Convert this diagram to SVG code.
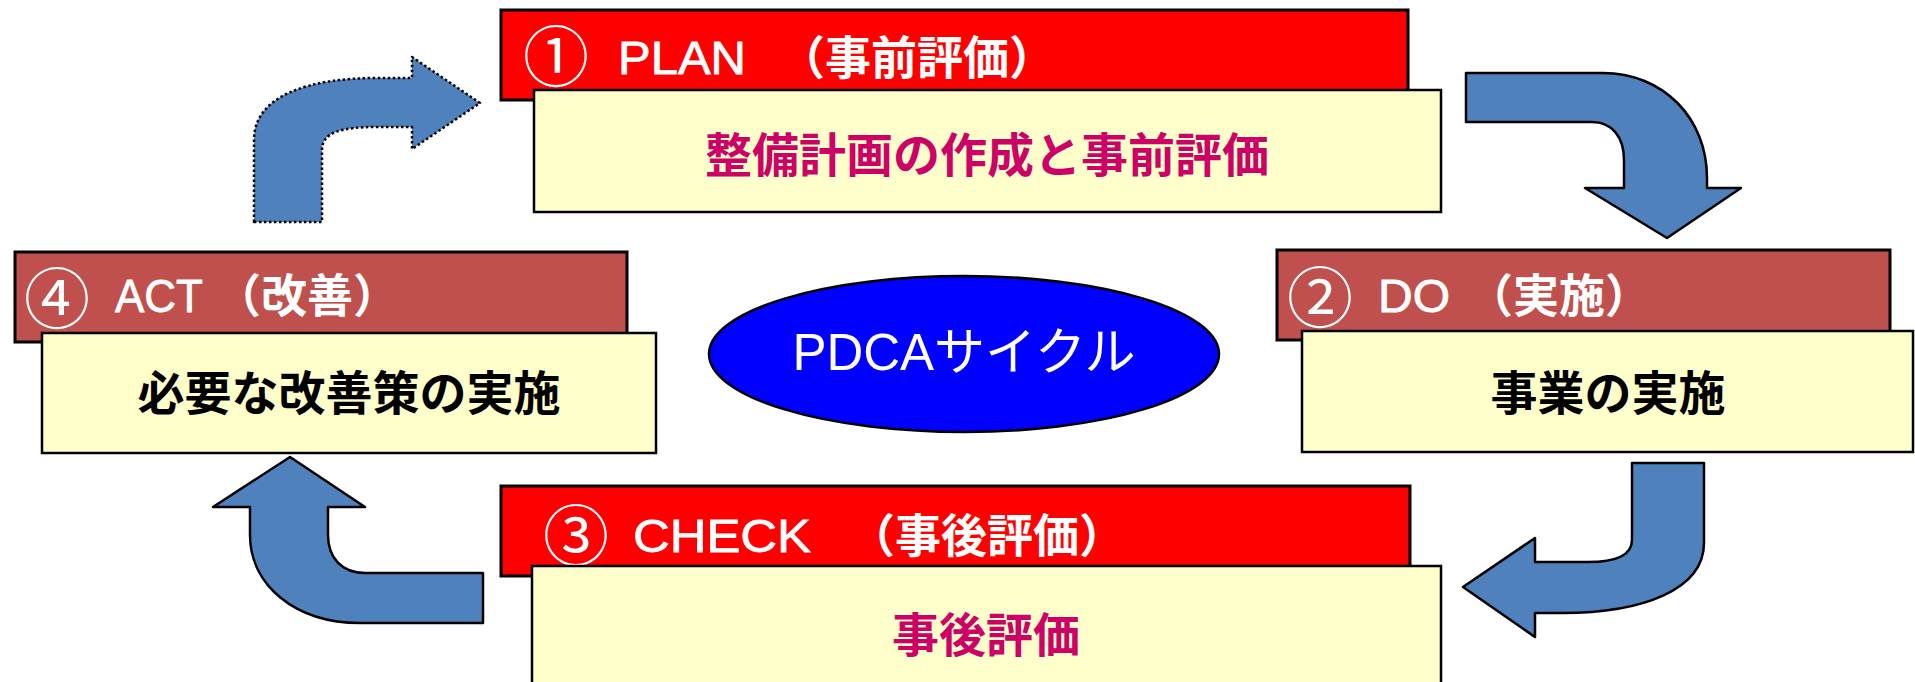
<svg xmlns="http://www.w3.org/2000/svg" width="1915" height="682" viewBox="0 0 1915 682">
<style>
.hdr1{fill:#FF0000;stroke:#000;stroke-width:3}
.hdr2{fill:#C0504D;stroke:#000;stroke-width:3}
.body{fill:#FFFFCC;stroke:#000;stroke-width:2.5}
.ht{font-family:"Liberation Sans","Noto Sans CJK JP",sans-serif;font-size:46px;fill:#fff;stroke:#fff;stroke-width:0.8}
.hj{font-family:"Noto Sans CJK JP",sans-serif;font-size:46px;font-weight:bold;fill:#fff}
.num{font-family:"Noto Sans CJK JP",sans-serif;font-size:66px;fill:#fff;text-anchor:middle}
.bt{font-family:"Noto Sans CJK JP",sans-serif;font-size:47px;font-weight:bold;text-anchor:middle}
.mag{fill:#CC0066}
.blk{fill:#000}
.arr{fill:#4F81BD;stroke:#000;stroke-width:2.5;stroke-linejoin:round}
.dot{stroke-dasharray:2.5 2.5}
</style>
<rect width="1915" height="682" fill="#fff"/>
<g id="connectors">
<path class="arr dot" d="M254,222 L254,140 C254,95 310,78 377,78 L412,78 L412,57 L480,103 L412,149 L412,127 L377,127 C342,127 322,132 322,150 L322,222 Z"/>
<path class="arr" d="M1466,73 L1603,73 C1663,73 1707,118 1707,178 L1707,188 L1741,188 L1667,238 L1585,188 L1624,188 L1624,160 C1624,137 1612,122 1592,122 L1466,122 Z"/>
<path class="arr" d="M1632,463 L1704,463 L1704,543 C1704,590 1642,613 1562,613 L1535,613 L1535,637 L1463,587 L1535,538 L1535,562 L1588,562 C1617,562 1632,555 1632,540 Z"/>
<path class="arr" d="M483,573 L483,623 L360,623 C295,623 250,585 250,535 L250,507 L213,507 L290,457 L365,507 L328,507 L328,535 C328,558 342,573 365,573 Z"/>
</g>
<g id="plan">
<rect class="hdr1" x="501" y="10" width="907" height="90"/>
<text class="num" x="556" y="81">①</text>
<text class="ht" x="618" y="74" textLength="128" lengthAdjust="spacingAndGlyphs">PLAN</text>
<text class="hj" x="779" y="74">（事前評価）</text>
<rect class="body" x="534" y="90" width="907" height="122"/>
<text class="bt mag" x="987" y="172">整備計画の作成と事前評価</text>
</g>
<g id="do">
<rect class="hdr2" x="1277" y="250" width="613" height="90"/>
<text class="num" x="1320" y="322">②</text>
<text class="ht" x="1378" y="312" textLength="72" lengthAdjust="spacingAndGlyphs">DO</text>
<text class="hj" x="1467" y="312">（実施）</text>
<rect class="body" x="1302" y="331" width="611" height="121"/>
<text class="bt blk" x="1608" y="410">事業の実施</text>
</g>
<g id="check">
<rect class="hdr1" x="501" y="486" width="909" height="90"/>
<text class="num" x="576" y="560">③</text>
<text class="ht" x="633" y="552" textLength="178" lengthAdjust="spacingAndGlyphs">CHECK</text>
<text class="hj" x="849" y="552">（事後評価）</text>
<rect class="body" x="532" y="566" width="909" height="130"/>
<text class="bt mag" x="986" y="652">事後評価</text>
</g>
<g id="act">
<rect class="hdr2" x="15" y="252" width="612" height="90"/>
<text class="num" x="57" y="323">④</text>
<text class="ht" x="115" y="312" textLength="88" lengthAdjust="spacingAndGlyphs">ACT</text>
<text class="hj" x="215" y="312">（改善）</text>
<rect class="body" x="42" y="333" width="614" height="120"/>
<text class="bt blk" x="349" y="410">必要な改善策の実施</text>
</g>
<g id="center">
<ellipse cx="964" cy="354" rx="255" ry="78" fill="#0000FF" stroke="#000" stroke-width="2.5"/>
<text x="964" y="370" text-anchor="middle" font-family="Liberation Sans,'Noto Sans CJK JP',sans-serif" font-size="51" fill="#fff">PDCAサイクル</text>
</g>
</svg>
